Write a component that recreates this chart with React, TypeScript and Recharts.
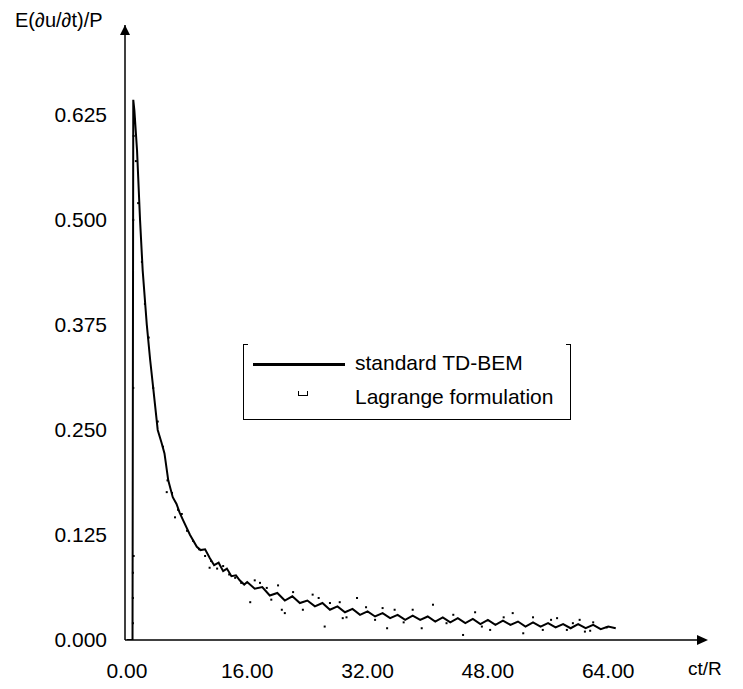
import React from 'react';
import {
  ComposedChart, Line, Scatter, XAxis, YAxis, ReferenceDot
} from 'recharts';

// standard TD-BEM curve (ct/R, value)
const tbemT = [
  0, 0.75, 0.85, 1.0, 1.35, 1.75, 2.1, 2.65, 3.1, 3.5, 4.1, 4.6, 5.0, 5.5, 6.1, 6.6, 7.0, 7.5, 8.4, 9.3,
  9.8, 10.4, 11.0, 11.6, 12.2, 12.8, 13.3, 13.9, 14.5, 15.0, 15.6,
  16, 17, 18, 19, 20, 21, 22, 23, 24, 25, 26, 27, 28, 29, 30, 31, 32, 33, 34, 35,
  36, 37, 38, 39, 40, 41, 42, 43, 44, 45, 46, 47, 48, 49, 50, 51, 52, 53, 54, 55,
  56, 57, 58, 59, 60, 61, 62, 63, 64, 65,
];
const tbemV = [
  0, 0, 0.643, 0.63, 0.583, 0.5, 0.44, 0.375, 0.333, 0.3, 0.25, 0.235, 0.222, 0.19, 0.17, 0.162, 0.152, 0.142, 0.125, 0.111,
  0.107, 0.108, 0.098, 0.089, 0.092, 0.082, 0.085, 0.076, 0.077, 0.071, 0.066,
  0.069, 0.061, 0.063, 0.053, 0.056, 0.047, 0.052, 0.044, 0.047, 0.04, 0.044, 0.036, 0.04, 0.033, 0.037, 0.03, 0.034, 0.028, 0.032, 0.026,
  0.03, 0.024, 0.029, 0.024, 0.028, 0.022, 0.027, 0.021, 0.026, 0.02, 0.025, 0.019, 0.024, 0.018, 0.023, 0.018, 0.022, 0.016, 0.021, 0.016,
  0.02, 0.015, 0.019, 0.014, 0.019, 0.014, 0.018, 0.013, 0.016, 0.014,
];

// Lagrange formulation points
const lagT = [
  0.8, 0.8, 0.8, 0.85, 0.85, 0.9, 0.9, 1.0, 1.2, 1.5, 2.0, 2.4, 2.9, 3.5, 4.1, 4.8, 5.3, 5.4, 6.0, 6.4,
  6.8, 7.3, 8.0, 8.8, 9.6, 10.4, 11.0, 11.2, 12.0, 12.8, 13.6, 14.4, 15.2, 16.4, 17.0, 17.7, 20.1, 20.6, 21.0, 22.1,
  23.4, 24.7, 26.3, 27.0, 28.3, 28.7, 29.2, 30.6, 34.0, 34.6, 35.6, 38.0, 39.2, 40.7, 42.5, 44.7, 46.3, 48.3, 51.3, 52.7,
  54.0, 55.3, 57.2, 58.5, 60.2, 60.9, 62.0, 63.8,
  18.6, 19.2, 25.5, 31.8, 33.0, 36.8, 43.4, 47.2, 50.1, 56.4, 59.3, 61.6,
];
const lagV = [
  0.02, 0.05, 0.08, 0.3, 0.5, 0.1, 0.6, 0.62, 0.57, 0.52, 0.45, 0.4, 0.36, 0.3, 0.26, 0.23, 0.176, 0.19, 0.175, 0.146,
  0.155, 0.15, 0.13, 0.118, 0.108, 0.1, 0.086, 0.094, 0.085, 0.088, 0.078, 0.074, 0.068, 0.045, 0.071, 0.068, 0.065, 0.036, 0.032, 0.057,
  0.036, 0.054, 0.016, 0.044, 0.045, 0.026, 0.027, 0.05, 0.038, 0.014, 0.036, 0.036, 0.014, 0.042, 0.02, 0.006, 0.033, 0.012, 0.032, 0.008,
  0.027, 0.012, 0.026, 0.012, 0.024, 0.01, 0.021, 0.015,
  0.062, 0.048, 0.05, 0.039, 0.024, 0.021, 0.03, 0.016, 0.027, 0.024, 0.02, 0.011,
];

const xTicks = [0, 16, 32, 48, 64];
const yTicks = [0, 0.125, 0.25, 0.375, 0.5, 0.625];

const tbemData = tbemT.map((t, i) => ({ t, v: tbemV[i] }));
const lagData = lagT.map((t, i) => ({ t, v: lagV[i] }));

const FONT = '"Liberation Sans", Arial, sans-serif';

const Speck = (props: any) => (
  <rect x={props.cx - 1} y={props.cy - 1} width={2} height={2} fill="#000" />
);

const RightArrow = (props: any) => (
  <polygon points={`${props.cx - 9},${props.cy - 5} ${props.cx + 2},${props.cy} ${props.cx - 9},${props.cy + 5}`} fill="#000" />
);
const UpArrow = (props: any) => (
  <polygon points={`${props.cx - 5},${props.cy + 10} ${props.cx},${props.cy} ${props.cx + 5},${props.cy + 10}`} fill="#000" />
);

const LegendBox = () => (
  <div style={{ position: 'absolute', left: 243, top: 344, width: 326, height: 75, fontFamily: FONT, fontSize: 21, color: '#000',
    borderLeft: '1.5px solid #000', borderRight: '1.5px solid #000', borderBottom: '1.5px solid #000' }}>
    <div style={{ position: 'absolute', left: 0, top: 0, width: 4, borderTop: '1.5px solid #000' }} />
    <div style={{ position: 'absolute', right: 0, top: 0, width: 4, borderTop: '1.5px solid #000' }} />
    <div style={{ position: 'absolute', left: 9, top: 19, width: 92, height: 2.5, background: '#000' }} />
    <div style={{ position: 'absolute', left: 111, top: 6, lineHeight: '26px', whiteSpace: 'nowrap' }}>standard TD-BEM</div>
    <div style={{ position: 'absolute', left: 54, top: 47, width: 8, height: 4, borderLeft: '1px solid #000',
      borderRight: '1px solid #000', borderBottom: '1.5px solid #000' }} />
    <div style={{ position: 'absolute', left: 111, top: 40, lineHeight: '26px', whiteSpace: 'nowrap' }}>Lagrange formulation</div>
  </div>
);

export default function App() {
  return (
    <div style={{ position: 'absolute', left: 0, top: 0, width: 743, height: 689, background: '#fff' }}>
      <ComposedChart width={743} height={689} margin={{ top: 25, right: 37, bottom: 0, left: 0 }}>
        <XAxis
          type="number" dataKey="t" domain={[-0.25, 77]} ticks={xTicks} allowDataOverflow
          tickFormatter={(v: number) => v.toFixed(2)} height={49}
          axisLine={{ stroke: '#000', strokeWidth: 1.5 }} tickLine={false} tickMargin={17}
          tick={{ fill: '#000', fontSize: 21, fontFamily: FONT }}
        />
        <YAxis
          type="number" dataKey="v" domain={[0, 0.732]} ticks={yTicks} allowDataOverflow
          tickFormatter={(v: number) => v.toFixed(3)} width={125}
          axisLine={{ stroke: '#000', strokeWidth: 1.5 }} tickLine={false} tickMargin={12}
          tick={{ fill: '#000', fontSize: 21, fontFamily: FONT }}
        />
        <Line data={tbemData} dataKey="v" type="linear" stroke="#000" strokeWidth={2} dot={false}
          isAnimationActive={false} name="standard TD-BEM" />
        <Scatter data={lagData} dataKey="v" shape={<Speck />} isAnimationActive={false} name="Lagrange formulation" />
        <ReferenceDot x={77} y={0} r={0} shape={<RightArrow />} ifOverflow="visible" />
        <ReferenceDot x={-0.25} y={0.732} r={0} shape={<UpArrow />} ifOverflow="visible" />
      </ComposedChart>
      <LegendBox />
      <div style={{ position: 'absolute', left: 15, top: 8, fontFamily: FONT, fontSize: 20, lineHeight: '24px', whiteSpace: 'nowrap' }}>
        E(∂u/∂t)/P
      </div>
      <div style={{ position: 'absolute', left: 688, top: 657, fontFamily: FONT, fontSize: 19, lineHeight: '24px', whiteSpace: 'nowrap' }}>
        ct/R
      </div>
    </div>
  );
}
